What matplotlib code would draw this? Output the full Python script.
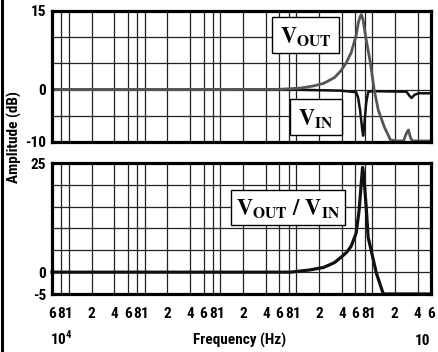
import matplotlib
matplotlib.use("Agg")
import matplotlib.pyplot as plt
from matplotlib import font_manager as fm
from matplotlib.lines import Line2D
from matplotlib.patches import Rectangle

have = {f.name for f in fm.fontManager.ttflist}
narrow = [n for n in ['Liberation Sans Narrow', 'Roboto Condensed', 'Archivo Narrow',
                      'Barlow Condensed', 'Asap Condensed'] if n in have]
FONT = narrow[:1] + ['DejaVu Sans']
plt.rcParams['font.family'] = FONT
plt.rcParams['font.weight'] = 'bold'
plt.rcParams['mathtext.fontset'] = 'custom'
plt.rcParams['mathtext.rm'] = FONT[0]
plt.rcParams['mathtext.bf'] = FONT[0] + ':bold'

# frequency (Hz) / amplitude (dB)
vout_f = [6e3, 1e6, 6e6, 1.15e7, 1.7e7, 2.31e7, 3.2e7, 3.89e7, 4.6e7, 5.29e7, 6.17e7, 6.6e7,
          7.0e7, 7.25e7, 7.6e7, 8.38e7, 9.47e7, 1.07e8, 1.21e8, 1.45e8, 1.75e8, 2.10e8,
          2.60e8, 2.85e8, 3.03e8, 3.22e8, 3.43e8, 6e8]
vout_db = [0, 0, 0.05, 0.3, 0.7, 1.2, 2.3, 3.6, 5.2, 7.0, 10.3, 12.8,
           14.0, 14.3, 13.4, 9.5, 5.3, -0.1, -3.9, -7.1, -9.6, -9.8,
           -9.8, -8.3, -7.7, -9.2, -9.8, -9.8]

vin_f = [6e3, 8.43e6, 3.89e7, 6.17e7, 6.55e7, 6.97e7, 7.41e7, 7.64e7, 7.88e7, 8.38e7,
         8.89e7, 9.76e7, 2.85e8, 3.13e8, 3.32e8, 3.64e8, 4.11e8, 6e8]
vin_db = [0, 0, -0.2, -0.5, -1.5, -4.0, -7.5, -8.8, -7.0, -2.5,
          -0.5, -0.3, -0.4, -1.2, -1.6, -1.0, -0.7, -0.7]

ratio_f = [6e3, 8.43e6, 1.5e7, 2.31e7, 3.2e7, 3.89e7, 4.6e7, 5.29e7, 6.17e7, 6.76e7,
           7.18e7, 7.5e7, 7.75e7, 8.38e7, 8.89e7, 1.007e8, 1.14e8, 1.29e8, 1.41e8, 6e8]
ratio_db = [0, 0, 0.5, 1.1, 2.2, 3.4, 4.5, 5.9, 8.9, 14.2,
            19.9, 24.0, 22.5, 14.9, 8.0, 3.9, -0.2, -3.0, -5.0, -5.0]

grid_mult = [1, 2, 4, 6, 8]
grid_f = [m * 10 ** k for k in range(3, 9) for m in grid_mult if 6e3 <= m * 10 ** k <= 6e8]
grid_lab = [str(int(round(f / 10 ** (len(str(int(f))) - 1)))) for f in grid_f]

top_ticks = [-10, -5, 0, 5, 10, 15]
top_labels = ['-10', '', '0', '', '', '15']
bot_ticks = [-5, 0, 5, 10, 15, 20, 25]
bot_labels = ['-5', '0', '', '', '', '', '25']

W, H = 438, 352
fig = plt.figure(figsize=(W / 100, H / 100), dpi=100)


def px(x0, y0, x1, y1):
    return [x0 / W, 1 - y1 / H, (x1 - x0) / W, (y1 - y0) / H]


ax1 = fig.add_axes(px(52, 11, 431, 142))
ax2 = fig.add_axes(px(52, 163, 431, 294))

for ax, ticks, labels, lim in [(ax1, top_ticks, top_labels, (-10, 15)),
                               (ax2, bot_ticks, bot_labels, (-5, 25))]:
    ax.set_xscale('log')
    ax.set_xlim(6e3, 6e8)
    ax.set_ylim(*lim)
    ax.set_xticks(grid_f)
    ax.xaxis.set_minor_locator(matplotlib.ticker.NullLocator())
    ax.set_yticks(ticks)
    ax.set_yticklabels(labels)
    ax.tick_params(length=0, labelsize=11, pad=4)
    for f in grid_f:
        ax.axvline(f, color='#222222', lw=0.9, zorder=1)
    for t in ticks:
        ax.axhline(t, color='#222222', lw=0.9, zorder=1)
    for s in ax.spines.values():
        s.set_linewidth(2.3)
        s.set_zorder(5)

ax1.set_xticklabels([])
ax2.set_xticklabels(grid_lab)
ax2.tick_params(axis='x', pad=9)

ax1.plot(vin_f, vin_db, color='#111111', lw=1.8, zorder=3)
ax1.plot(vout_f, vout_db, color='#555555', lw=2.0, zorder=4)
ax2.plot(ratio_f, ratio_db, color='#111111', lw=2.3, zorder=3, clip_on=False)

# legend boxes
boxes = [((272, 17, 339, 53), r'$\mathbf{V}_{\mathbf{OUT}}$'),
         ((290, 99, 342, 135), r'$\mathbf{V}_{\mathbf{IN}}$'),
         ((231, 190, 345, 225), r'$\mathbf{V}_{\mathbf{OUT}}\ \mathbf{/\ V}_{\mathbf{IN}}$')]
for (x0, y0, x1, y1), txt in boxes:
    b = px(x0, y0, x1, y1)
    fig.add_artist(Rectangle((b[0], b[1]), b[2], b[3], transform=fig.transFigure,
                             facecolor='white', edgecolor='black', lw=1.0, zorder=10))
    fig.text(b[0] + b[2] / 2, b[1] + b[3] / 2 - 0.004, txt, ha='center', va='center',
             fontsize=16, math_fontfamily='stix', zorder=11)

fig.add_artist(Line2D([2 / W, 2 / W], [0, 1], transform=fig.transFigure, color='black', lw=2.2))

fig.text(14 / W, 1 - 137 / H, 'Amplitude (dB)', rotation=90, ha='center', va='center',
         fontsize=11)
fig.text(240 / W, 1 - 340 / H, 'Frequency (Hz)', ha='center', va='center', fontsize=11)
fig.text(50 / W, 1 - 345 / H, r'10$^{\mathbf{4}}$', ha='left', va='baseline', fontsize=11)
fig.text(415 / W, 1 - 345 / H, '10', ha='left', va='baseline', fontsize=11)

fig.savefig('out.png', dpi=100)
